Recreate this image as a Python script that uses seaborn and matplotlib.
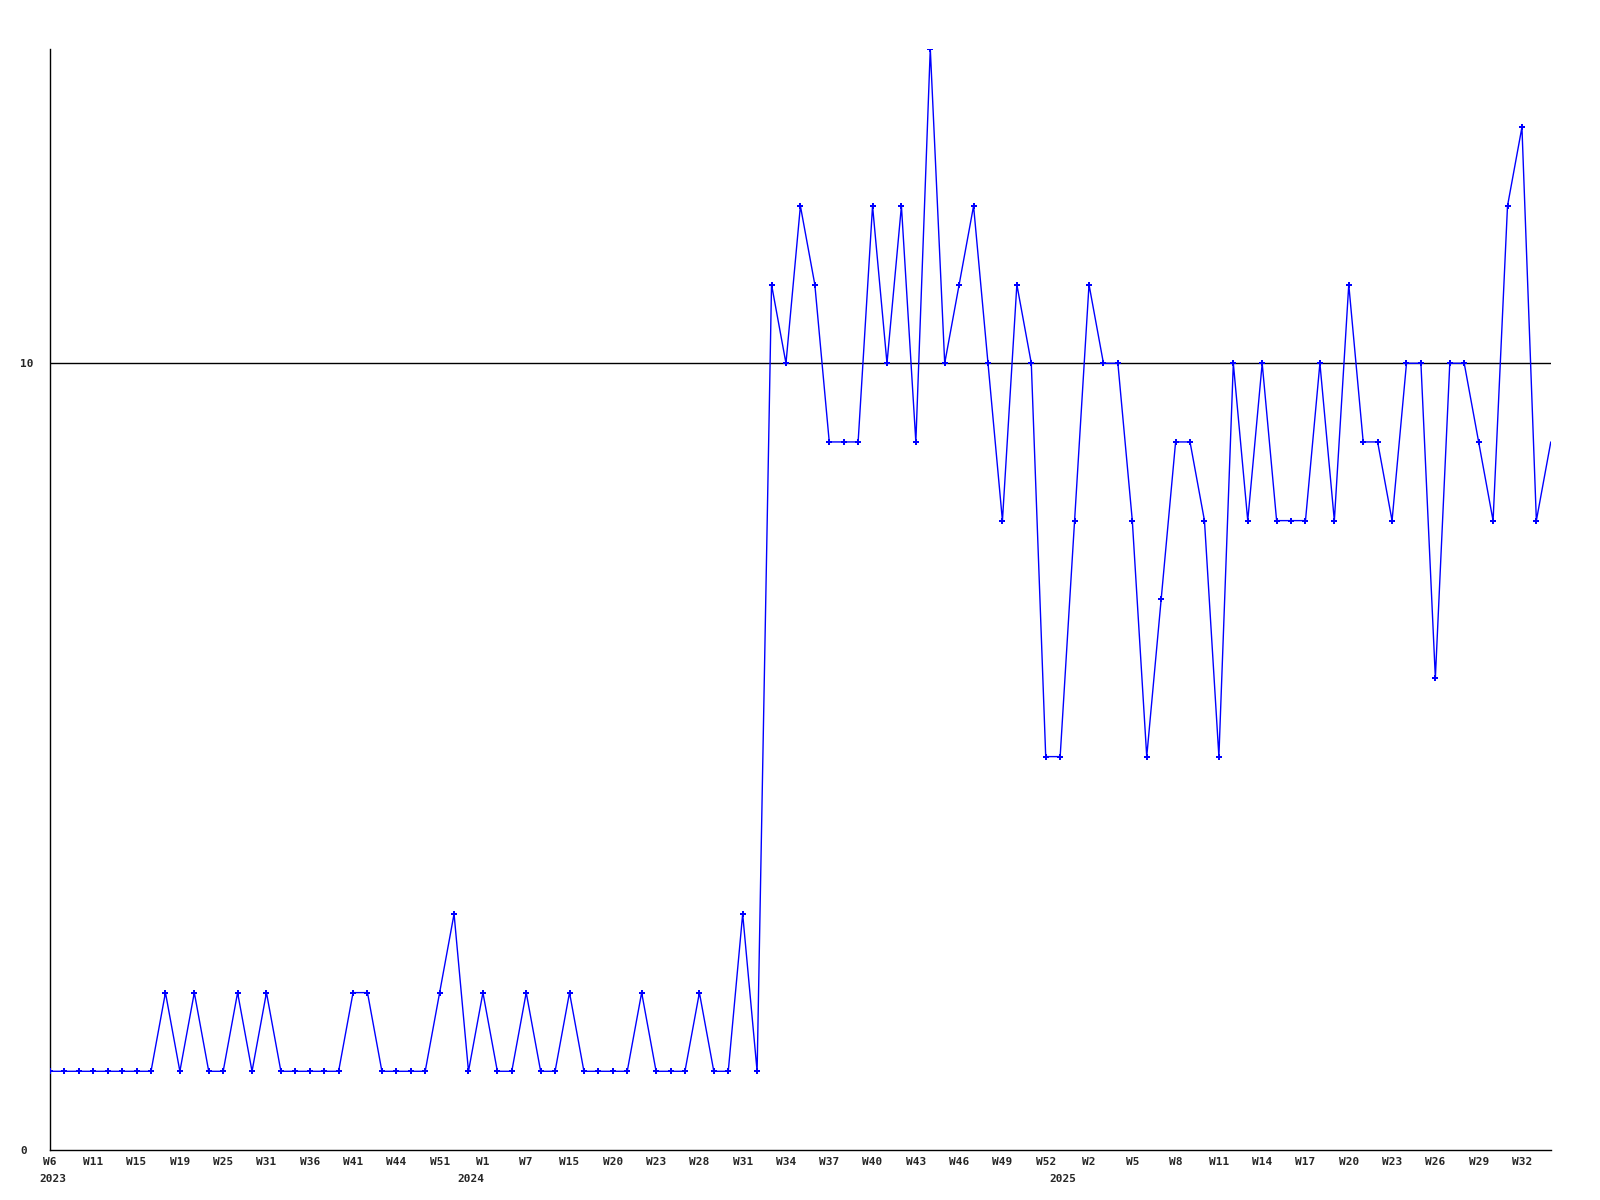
import pandas as pd
import matplotlib
matplotlib.use("Agg")
import matplotlib.pyplot as plt
import seaborn as sns

# week labels (only every third one is shown on the axis)
weeks = [
    "W6", "W7", "W9", "W11", "W12", "W14", "W15", "W17", "W18", "W19",
    "W21", "W23", "W25", "W27", "W29", "W31", "W33", "W35", "W36", "W38",
    "W39", "W41", "W42", "W43", "W44", "W47", "W49", "W51", "W52",
    "W0", "W1", "W3", "W5", "W7", "W10", "W12", "W15", "W17", "W19", "W20",
    "W21", "W22", "W23", "W25", "W26", "W28", "W29", "W30", "W31", "W32",
    "W33", "W34", "W35", "W36", "W37", "W38", "W39", "W40", "W41", "W42",
    "W43", "W44", "W45", "W46", "W47", "W48", "W49", "W50", "W51", "W52",
    "W0", "W1", "W2", "W3", "W4", "W5", "W6", "W7", "W8", "W9",
    "W10", "W11", "W12", "W13", "W14", "W15", "W16", "W17", "W18", "W19",
    "W20", "W21", "W22", "W23", "W24", "W25", "W26", "W27", "W28", "W29",
    "W30", "W31", "W32", "W33", "W34",
]

values = [
    1, 1, 1, 1, 1, 1, 1, 1, 2, 1,
    2, 1, 1, 2, 1, 2, 1, 1, 1, 1,
    1, 2, 2, 1, 1, 1, 1, 2, 3, 1,
    2, 1, 1, 2, 1, 1, 2, 1, 1, 1,
    1, 2, 1, 1, 1, 2, 1, 1, 3, 1,
    11, 10, 12, 11, 9, 9, 9, 12, 10, 12,
    9, 14, 10, 11, 12, 10, 8, 11, 10, 5,
    5, 8, 11, 10, 10, 8, 5, 7, 9, 9,
    8, 5, 10, 8, 10, 8, 8, 8, 10, 8,
    11, 9, 9, 8, 10, 10, 6, 10, 10, 9,
    8, 12, 13, 8, 9,
]

# first week of each year: (index in the series, year)
year_starts = [0, 29, 70]
year_labels = ["2023", "2024", "2025"]

df = pd.DataFrame({"idx": range(len(values)), "week": weeks, "count": values})

sns.set_style("white")
plt.rcParams["font.family"] = ["DejaVu Sans Mono"]

fig = plt.figure(figsize=(16, 12), dpi=100)
ax = fig.add_axes([0.03125, 0.0417, 0.938, 0.9178])

ax.axhline(10, color="black", lw=1.0, zorder=1)
# the last point sits on the right edge and shows no marker in the original
sns.lineplot(data=df, x="idx", y="count", ax=ax, color="#0000ff", lw=1.0,
             marker="P", markersize=4.2, markeredgewidth=0, zorder=3,
             markevery=list(range(len(values) - 1)))

ax.set_xlim(0, len(values) - 1)
ax.set_ylim(0, 14)

ax.set_xticks(df["idx"][::3])
ax.set_xticklabels(df["week"][::3], fontsize=8, fontweight="bold")
ax.set_yticks([0, 10])
ax.set_yticklabels(["0", "10"], fontsize=8, fontweight="bold")
for lab in ax.get_yticklabels():
    lab.set_horizontalalignment("left")
ax.tick_params(axis="x", length=0, pad=5)
ax.tick_params(axis="y", length=0, pad=21.5)

for pos, yr in zip(year_starts, year_labels):
    ax.annotate(yr, xy=(pos, 0), xycoords=("data", "axes fraction"),
                xytext=(2, -21), textcoords="offset points",
                ha="center", va="center", fontsize=8, fontweight="bold")

ax.set_xlabel("")
ax.set_ylabel("")
for side in ["top", "right"]:
    ax.spines[side].set_visible(False)
for side in ["left", "bottom"]:
    ax.spines[side].set_color("black")
    ax.spines[side].set_linewidth(1.0)

fig.savefig("out.png", dpi=100)
